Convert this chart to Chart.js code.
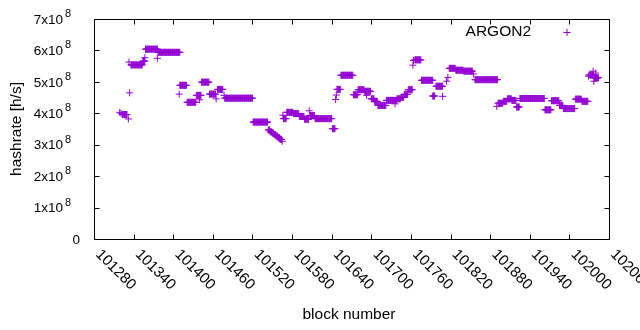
<!DOCTYPE html>
<html>
<head>
<meta charset="utf-8">
<script src="https://cdn.jsdelivr.net/npm/chart.js@4/dist/chart.umd.min.js"></script>
<style>
html,body{margin:0;padding:0;background:#fff;}
canvas{display:block;}
</style>
</head>
<body>
<canvas id="c" width="640" height="330"></canvas>
<script>
// Runs of consecutive blocks sharing the same hashrate
const runStart = [101319,101321,101323,101332,101333,101334,101336,101354,101357,101358,101376,101377,101409,101410,101421,101435,101440,101443,101455,101465,101467,101477,101478,101521,101544,101547,101550,101553,101556,101559,101562,101565,101566,101567,101572,101582,101591,101599,101606,101607,101615,101641,101646,101647,101648,101654,101673,101680,101690,101693,101700,101705,101710,101723,101736,101739,101745,101750,101756,101763,101764,101766,101776,101793,101798,101808,101814,101816,101818,101828,101840,101855,101857,101890,101892,101900,101906,101913,101920,101925,101963,101973,101985,101991,102009,102019,102029,102030,102036,102037,102038,102040];
const runEnd   = [101319,101321,101330,101332,101333,101334,101353,101357,101357,101376,101376,101410,101409,101420,101434,101442,101440,101454,101464,101465,101475,101477,101520,101543,101546,101549,101552,101555,101558,101561,101564,101565,101566,101571,101581,101590,101598,101605,101606,101614,101640,101645,101646,101647,101653,101672,101679,101689,101699,101693,101704,101709,101722,101738,101736,101744,101749,101755,101762,101763,101764,101775,101793,101796,101808,101808,101814,101816,101827,101839,101853,101855,101891,101890,101899,101905,101912,101919,101924,101962,101972,101984,101990,102008,102018,102028,102029,102036,102036,102037,102044,102040];
const runHashrate = [4.03e8,4.00e8,3.96e8,3.82e8,5.63e8,4.65e8,5.54e8,5.66e8,5.77e8,6.04e8,5.75e8,5.94e8,4.61e8,4.89e8,4.35e8,4.57e8,4.43e8,4.99e8,4.61e8,4.46e8,4.76e8,4.57e8,4.48e8,3.72e8,3.47e8,3.41e8,3.37e8,3.32e8,3.27e8,3.22e8,3.17e8,3.11e8,3.94e8,3.83e8,4.03e8,3.99e8,3.90e8,3.81e8,4.08e8,3.93e8,3.83e8,3.51e8,4.44e8,4.58e8,4.76e8,5.21e8,4.59e8,4.75e8,4.70e8,4.57e8,4.46e8,4.38e8,4.25e8,4.41e8,4.30e8,4.46e8,4.51e8,4.60e8,4.75e8,5.53e8,5.68e8,5.70e8,5.05e8,4.55e8,4.86e8,4.54e8,5.02e8,5.14e8,5.43e8,5.37e8,5.34e8,5.25e8,5.07e8,4.22e8,4.32e8,4.38e8,4.46e8,4.41e8,4.20e8,4.47e8,4.11e8,4.40e8,4.25e8,4.15e8,4.45e8,4.38e8,5.18e8,5.22e8,5.34e8,5.02e8,5.13e8,5.28e8];
const seriesName = "ARGON2";
const xTicks = [101280,101340,101400,101460,101520,101580,101640,101700,101760,101820,101880,101940,102000,102060];
const yTicks = [0,1e8,2e8,3e8,4e8,5e8,6e8,7e8];
const xTitle = "block number";
const yTitle = "hashrate [h/s]";

const points = [];
for (let i = 0; i < runStart.length; i++) {
  for (let b = runStart[i]; b <= runEnd[i]; b++) points.push({x: b, y: runHashrate[i]});
}

const COLOR = '#9400d3';
const FONT = "'Liberation Sans', Arial, sans-serif";

const framePlugin = {
  id: 'frame',
  afterDraw(chart) {
    const ctx = chart.ctx;
    const xs = chart.scales.x, ys = chart.scales.y;
    const a = chart.chartArea;
    const L = Math.round(a.left) + 0.5, R = Math.round(a.right) + 0.5;
    const T = Math.round(a.top) + 0.5, B = Math.round(a.bottom) + 0.5;
    ctx.save();
    ctx.strokeStyle = '#000';
    ctx.lineWidth = 1;
    ctx.beginPath();
    ctx.rect(L, T, R - L, B - T);
    // tick marks, inward on all four sides
    xTicks.forEach(v => {
      const p = Math.round(xs.getPixelForValue(v)) + 0.5;
      ctx.moveTo(p, B); ctx.lineTo(p, B - 5);
      ctx.moveTo(p, T); ctx.lineTo(p, T + 5);
    });
    yTicks.forEach(v => {
      const p = Math.round(ys.getPixelForValue(v)) + 0.5;
      ctx.moveTo(L, p); ctx.lineTo(L + 5, p);
      ctx.moveTo(R, p); ctx.lineTo(R - 5, p);
    });
    ctx.stroke();

    ctx.fillStyle = '#000';
    // y tick labels  (N x 10^8)
    yTicks.forEach(v => {
      const p = ys.getPixelForValue(v);
      ctx.textBaseline = 'middle';
      if (v === 0) {
        ctx.font = '13.5px ' + FONT;
        ctx.textAlign = 'right';
        ctx.fillText('0', 80, p + 1);
      } else {
        const e = Math.floor(Math.log10(v));
        const m = Math.round(v / Math.pow(10, e));
        ctx.font = '13.5px ' + FONT;
        ctx.textAlign = 'right';
        ctx.fillText(m + 'x10', 63, p + 1);
        ctx.font = '11px ' + FONT;
        ctx.textAlign = 'left';
        ctx.fillText(String(e), 65, p - 5);
      }
    });
    // x tick labels rotated 45deg clockwise
    ctx.font = '15px ' + FONT;
    xTicks.forEach(v => {
      const p = xs.getPixelForValue(v);
      ctx.save();
      ctx.translate(p + 4, 252);
      ctx.rotate(Math.PI / 4);
      ctx.textAlign = 'left';
      ctx.textBaseline = 'middle';
      ctx.fillText(String(v), 0, 0);
      ctx.restore();
    });
    // axis titles
    ctx.font = '15.5px ' + FONT;
    ctx.textAlign = 'center';
    ctx.textBaseline = 'middle';
    ctx.fillText(xTitle, 349, 315);
    ctx.save();
    ctx.translate(17, (a.top + a.bottom) / 2);
    ctx.rotate(-Math.PI / 2);
    ctx.fillText(yTitle, 0, 0);
    ctx.restore();
    // legend (text then sample, gnuplot style)
    ctx.textAlign = 'right';
    ctx.fillText(chart.data.datasets[0].label, 531, 32);
    ctx.strokeStyle = COLOR;
    ctx.beginPath();
    ctx.moveTo(563.5, 32.5); ctx.lineTo(570.5, 32.5);
    ctx.moveTo(567, 29); ctx.lineTo(567, 36);
    ctx.stroke();
    ctx.restore();
  }
};

new Chart(document.getElementById('c'), {
  type: 'scatter',
  data: {
    datasets: [{
      label: seriesName,
      data: points,
      pointStyle: 'cross',
      pointRadius: 3.5,
      pointBorderWidth: 1,
      borderColor: COLOR,
      backgroundColor: COLOR,
      showLine: false
    }]
  },
  options: {
    responsive: false,
    animation: false,
    devicePixelRatio: 1,
    events: [],
    layout: { padding: { left: 94, right: 31, top: 19, bottom: 91 } },
    plugins: { legend: { display: false }, tooltip: { enabled: false } },
    scales: {
      x: { type: 'linear', display: false, min: 101280, max: 102060 },
      y: { type: 'linear', display: false, min: 0, max: 7e8 }
    }
  },
  plugins: [framePlugin]
});
</script>
</body>
</html>
